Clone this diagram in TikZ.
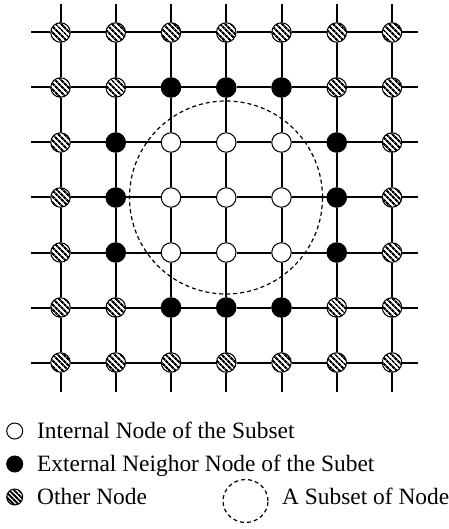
\documentclass[tikz,border=0pt]{standalone}
\usepackage{fontspec}
\setmainfont{Liberation Serif}
\usetikzlibrary{patterns.meta,shapes.geometric}
\tikzset{
  x=1pt,y=-1pt,
  gridline/.style={line width=2pt,black},
  vtx/.style={circle,draw=black,line width=1pt,inner sep=0pt,minimum size=19.5pt},
  innode/.style={vtx,fill=white},
  exnode/.style={vtx,fill=black},
  othnode/.style={vtx,fill=white,postaction={pattern={Lines[angle=-45,distance=4pt,line width=2.2pt]},pattern color=black}},
  legnode/.style={circle,draw=black,line width=1pt,inner sep=0pt,minimum size=16pt},
  legtext/.style={anchor=base west,inner sep=0pt,font=\fontsize{23.4}{27}\selectfont},
  subset/.style={draw=black,dashed,dash pattern=on 4pt off 3pt,line width=1.2pt},
}
\begin{document}
\begin{tikzpicture}
\useasboundingbox (0,0) rectangle (448,529);
\foreach \j/\row in {0/{o,o,o,o,o,o,o},1/{o,o,e,e,e,o,o},2/{o,e,i,i,i,e,o},3/{o,e,i,i,i,e,o},4/{o,e,i,i,i,e,o},5/{o,o,e,e,e,o,o},6/{o,o,o,o,o,o,o}}{
  \foreach \t [count=\k from 0] in \row {
    \pgfmathsetmacro{\xx}{60.5+55.25*\k}
    \pgfmathsetmacro{\yy}{32.5+55*\j}
    \if o\t \node[othnode] (n-\k-\j) at (\xx,\yy) {};\fi
    \if e\t \node[exnode] (n-\k-\j) at (\xx,\yy) {};\fi
    \if i\t \node[innode] (n-\k-\j) at (\xx,\yy) {};\fi
  }
}
% border stubs
\foreach \k in {0,...,6}{
  \pgfmathsetmacro{\xx}{60.5+55.25*\k}
  \pgfmathsetmacro{\yy}{32.5+55*\k}
  \coordinate (t-\k) at (\xx,4);
  \coordinate (b-\k) at (\xx,392);
  \coordinate (l-\k) at (31,\yy);
  \coordinate (r-\k) at (418,\yy);
  \draw[gridline] (t-\k) -- (n-\k-0);
  \draw[gridline] (n-\k-6) -- (b-\k);
  \draw[gridline] (l-\k) -- (n-0-\k);
  \draw[gridline] (n-6-\k) -- (r-\k);
}
\foreach \k in {0,...,6}{
  \foreach \m [evaluate=\m as \mm using int(\m+1)] in {0,...,5}{
    \draw[gridline] (n-\m-\k) -- (n-\mm-\k);
    \draw[gridline] (n-\k-\m) -- (n-\k-\mm);
  }
}
% subset circle
\node[subset,circle,minimum size=193pt,inner sep=0pt] (sub) at (226,197.5) {};
% legend
\node[legnode,fill=white] (L1) at (14.7,431) {};
\node[legtext] (T1) at (37,438.5) {Internal Node of the Subset};
\node[legnode,fill=black] (L2) at (14.7,464) {};
\node[legtext] (T2) at (37,471.5) {External Neighor Node of the Subet};
\node[legnode,fill=white,postaction={pattern={Lines[angle=-45,distance=3.4pt,line width=1.9pt]},pattern color=black}] (L3) at (14.7,497) {};
\node[legtext] (T3) at (37,504.5) {Other Node};
\node[subset,ellipse,minimum width=45pt,minimum height=43pt,inner sep=0pt] (L4) at (245.5,501) {};
\node[legtext] (T4) at (282,504.5) {A Subset of Node};
\end{tikzpicture}
\end{document}
